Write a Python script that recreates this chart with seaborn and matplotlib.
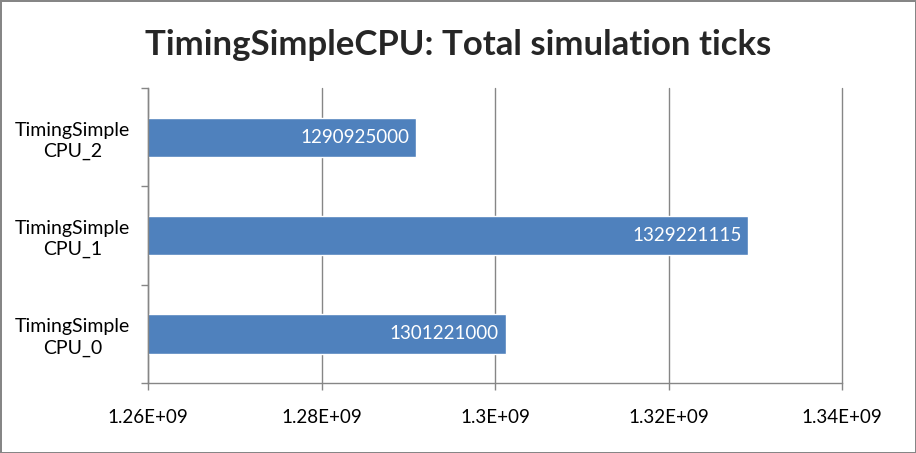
import matplotlib
matplotlib.use("Agg")
import matplotlib.pyplot as plt
import seaborn as sns
import pandas as pd
from matplotlib.ticker import FixedLocator

categories = ["TimingSimple\nCPU_2", "TimingSimple\nCPU_1", "TimingSimple\nCPU_0"]
ticks_values = [1290925000, 1329221115, 1301221000]
x_ticks = [1.26e9, 1.28e9, 1.30e9, 1.32e9, 1.34e9]
x_tick_labels = ["1.26E+09", "1.28E+09", "1.3E+09", "1.32E+09", "1.34E+09"]
title = "TimingSimpleCPU: Total simulation ticks"

sns.set_theme(style="white")
plt.rcParams["font.family"] = ["Lato", "DejaVu Sans"]

df = pd.DataFrame({"cat": categories, "val": ticks_values})

fig = plt.figure(figsize=(9.16, 4.53), dpi=100, facecolor="white",
                 edgecolor="#868686", linewidth=2)
ax = fig.add_axes([148/916, 1-383/453, (842-148)/916, (383-88)/453])

sns.barplot(data=df, y="cat", x="val", order=categories, orient="h",
            color="#4F81BD", saturation=1, width=0.4, ax=ax)

ax.set_xlim(x_ticks[0], x_ticks[-1])
ax.set_ylim(len(categories) - 0.5, -0.5)
ax.set_xticks(x_ticks)
ax.set_xticklabels(x_tick_labels)
ax.set_xlabel("")
ax.set_ylabel("")

ax.grid(axis="x", color="#868686", linewidth=1)
for gl in ax.get_xgridlines():
    gl.set_clip_on(False)
ax.set_axisbelow(True)

for s in ["top", "right"]:
    ax.spines[s].set_visible(False)
for s in ["left", "bottom"]:
    ax.spines[s].set_color("#868686")
    ax.spines[s].set_linewidth(1)

ax.tick_params(axis="x", direction="out", length=5, width=1, color="#868686",
               pad=14, labelsize=13.5, labelcolor="black", bottom=True)
ax.tick_params(axis="y", which="major", length=0, pad=13, labelsize=14,
               labelcolor="black")
ax.yaxis.set_minor_locator(FixedLocator([i - 0.5 for i in range(len(categories) + 1)]))
ax.tick_params(axis="y", which="minor", direction="out", length=5, width=1,
               color="#868686", left=True)
for t in ax.get_yticklabels():
    t.set_multialignment("center")
    t.set_linespacing(1.3)

for c in ax.containers:
    labels = ax.bar_label(c, labels=[str(v) for v in ticks_values], padding=-5,
                          color="white", fontsize=13.5)
    for l in labels:
        l.set_ha("right")

fig.suptitle(title, fontsize=25, fontweight="bold", y=1-45/453, va="center")

fig.savefig("out.png", dpi=100)
